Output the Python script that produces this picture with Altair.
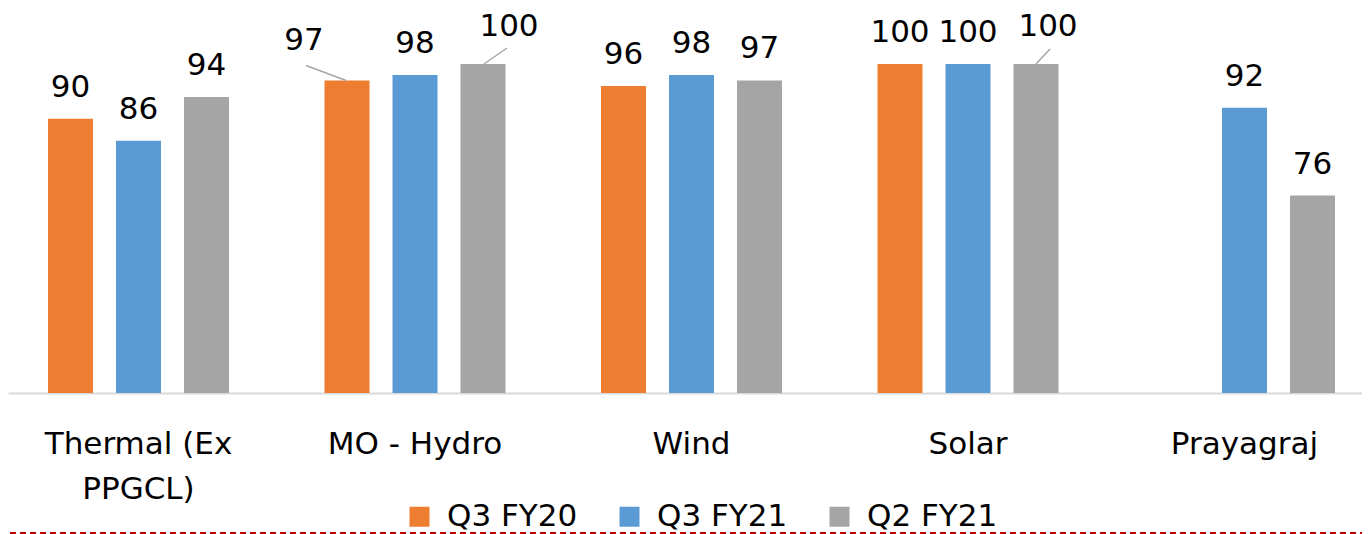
import altair as alt
import pandas as pd

categories = ["Thermal (Ex PPGCL)", "MO - Hydro", "Wind", "Solar", "Prayagraj"]
series = ["Q3 FY20", "Q3 FY21", "Q2 FY21"]
q3_fy20 = [90, 97, 96, 100, None]
q3_fy21 = [86, 98, 98, 100, 92]
q2_fy21 = [94, 100, 97, 100, 76]
colors = ["#ED7D31", "#5B9BD5", "#A5A5A5"]

rows = []
for s, vals in zip(series, [q3_fy20, q3_fy21, q2_fy21]):
    for c, v in zip(categories, vals):
        if v is not None:
            rows.append({"category": c, "series": s, "value": v})
df = pd.DataFrame(rows)

W, H = 1354, 329
FONT = "DejaVu Sans"

xenc = alt.X(
    "category:N",
    sort=categories,
    scale=alt.Scale(paddingInner=0.34539, paddingOuter=0.12116, align=0.597, round=False),
    axis=alt.Axis(
        title=None, labelAngle=0, ticks=False, labelPadding=36, labelLimit=0,
        labelFont=FONT, labelFontSize=31, labelColor="#000000",
        labelLineHeight=45, labelBaseline="top",
        domainColor="#D9D9D9", domainWidth=2,
        labelExpr="datum.label == 'Thermal (Ex PPGCL)' ? ['Thermal (Ex', 'PPGCL)'] : datum.label",
    ),
)
xoff = alt.XOffset("series:N", sort=series, scale=alt.Scale(paddingInner=0.338, paddingOuter=0))
yenc = alt.Y("value:Q", scale=alt.Scale(domain=[40, 100], nice=False, zero=False), axis=None)

base = alt.Chart(df)

bars = base.mark_bar().encode(
    x=xenc,
    xOffset=xoff,
    y=yenc,
    y2=alt.datum(40),
    color=alt.Color(
        "series:N", sort=series,
        scale=alt.Scale(domain=series, range=colors),
        legend=alt.Legend(
            title=None, orient="none", direction="horizontal",
            legendX=396, legendY=437,
            symbolType="square", symbolSize=400, symbolStrokeWidth=0,
            labelFont=FONT, labelFontSize=31, labelColor="#000000",
            labelOffset=12, columnPadding=36,
        ),
    ),
)

special = "(datum.category == 'MO - Hydro' && datum.series != 'Q3 FY21') || (datum.category == 'Solar' && datum.series == 'Q2 FY21')"

labels = base.mark_text(
    font=FONT, fontSize=31, color="#000000", baseline="alphabetic", dy=-22
).encode(x=xenc, xOffset=xoff, y=yenc, text=alt.Text("value:Q")).transform_filter("!(" + special + ")")

def special_label(cat, ser, dx, dy):
    return base.mark_text(
        font=FONT, fontSize=31, color="#000000", baseline="alphabetic", dx=dx, dy=dy
    ).encode(x=xenc, xOffset=xoff, y=yenc, text=alt.Text("value:Q")).transform_filter(
        f"datum.category == '{cat}' && datum.series == '{ser}'"
    )

def leader(cat, ser, center, x1, y1, x2, y2):
    return base.mark_rule(
        color="#A6A6A6", strokeWidth=1.5,
        xOffset=center + x1, x2Offset=center + x2, yOffset=y1, y2Offset=y2,
    ).encode(
        x=alt.X("category:N", sort=categories),
        x2=alt.X2("category:N"),
        y=yenc, y2=alt.Y2("value:Q"),
    ).transform_filter(f"datum.category == '{cat}' && datum.series == '{ser}'")

sp_labels = [
    special_label("MO - Hydro", "Q3 FY20", -43, -30),
    special_label("MO - Hydro", "Q2 FY21", 26, -28),
    special_label("Solar", "Q2 FY21", 12, -28),
]
leaders = [
    leader("MO - Hydro", "Q3 FY20", -68, -41, -15, -1, 0),
    leader("MO - Hydro", "Q2 FY21", 68, 24, -16, 1, 0),
    leader("Solar", "Q2 FY21", 68, 14, -15, 0, 0),
]

dash = alt.Chart(pd.DataFrame({"k": [0]})).mark_rule(
    color="#C00000", strokeWidth=2, strokeDash=[6, 4]
).encode(x=alt.value(-8), x2=alt.value(W + 8), y=alt.value(469))

chart = alt.layer(bars, labels, *sp_labels, *leaders, dash).properties(
    width=W, height=H,
    autosize=alt.AutoSizeParams(type="none"),
    padding={"left": 0, "right": 0, "top": 56, "bottom": 141},
).configure_view(stroke=None)

chart.save("out.html", embed_options={"renderer": "svg", "actions": False})
